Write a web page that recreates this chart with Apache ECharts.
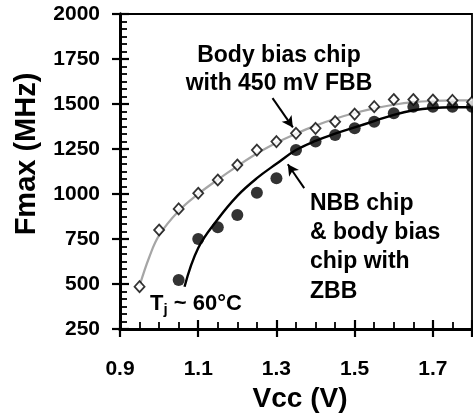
<!DOCTYPE html>
<html>
<head>
<meta charset="utf-8">
<script src="https://cdn.jsdelivr.net/npm/echarts@6/dist/echarts.min.js"></script>
<style>
  html, body { margin: 0; padding: 0; background: #fff; }
  #chart { width: 473px; height: 418px; }
</style>
</head>
<body>
<div id="chart"></div>
<script>
// Supply voltage (V) for the measured points
const vccFBB = [0.95, 1.0, 1.05, 1.1, 1.15, 1.2, 1.25, 1.3, 1.35, 1.4, 1.45, 1.5, 1.55, 1.6, 1.65, 1.7, 1.75, 1.8];
// Fmax (MHz), body bias chip with 450 mV forward body bias
const fmaxFBB = [485, 800, 917, 1004, 1078, 1161, 1244, 1291, 1337, 1365, 1402, 1444, 1485, 1525, 1525, 1522, 1520, 1510];

const vccNBB = [1.05, 1.1, 1.15, 1.2, 1.25, 1.3, 1.35, 1.4, 1.45, 1.5, 1.55, 1.6, 1.65, 1.7, 1.75, 1.8];
// Fmax (MHz), no body bias / zero body bias
const fmaxNBB = [522, 750, 815, 883, 1007, 1087, 1244, 1291, 1328, 1365, 1402, 1448, 1485, 1485, 1485, 1485];

// Fitted trend curves
const vccFitFBB = [0.95, 0.975, 1.0, 1.05, 1.1, 1.15, 1.2, 1.25, 1.3, 1.35, 1.4, 1.45, 1.5, 1.55, 1.6, 1.65, 1.7, 1.75, 1.8];
const fitFBB = [490, 650, 770, 905, 1000, 1080, 1155, 1225, 1285, 1335, 1380, 1418, 1450, 1476, 1496, 1510, 1517, 1520, 1520];
const vccFitNBB = [1.065, 1.1, 1.15, 1.2, 1.25, 1.3, 1.35, 1.4, 1.45, 1.5, 1.55, 1.6, 1.65, 1.7, 1.75, 1.8];
const fitNBB = [485, 700, 860, 990, 1088, 1168, 1244, 1295, 1335, 1370, 1405, 1440, 1465, 1478, 1482, 1482];

// Axis ranges and ticks
const xMin = 0.9, xMax = 1.8, xStep = 0.2;
const yMin = 250, yMax = 2000, yStep = 250;

// Annotation arrows [tail, head] in data units
const arrowFBB = [[1.29, 1533], [1.342, 1370]];
const arrowNBB = [[1.371, 1033], [1.329, 1165]];

const pair = (xs, ys) => xs.map((x, i) => [x, ys[i]]);

const FONT = '"Liberation Sans", Arial, sans-serif';
const chart = echarts.init(document.getElementById('chart'));

const majorIn = { show: true, inside: true, length: 9, lineStyle: { color: '#000', width: 2.2 } };
const majorOut = { show: true, inside: false, length: 8, lineStyle: { color: '#000', width: 2.2 } };
const axisLine = { show: true, onZero: false, lineStyle: { color: '#000', width: 3 } };

const baseX = { type: 'value', min: xMin, max: xMax, interval: xStep, axisLine: axisLine, splitLine: { show: false } };
const baseY = { type: 'value', min: yMin, max: yMax, interval: yStep, axisLine: axisLine, splitLine: { show: false } };

const annot = (x, y, text, align) => ({
  type: 'text', x: x, y: y,
  style: { text: text, font: 'bold 23px ' + FONT, fill: '#000', align: align, verticalAlign: 'middle' }
});

chart.setOption({
  animation: false,
  backgroundColor: '#fff',
  grid: {
    left: 120, right: 1, top: 14, bottom: 89,
    outerBoundsMode: 'none', containLabel: false,
    show: true, borderColor: '#000', borderWidth: 1.8
  },
  xAxis: [
    Object.assign({}, baseX, {
      name: 'Vcc (V)', nameLocation: 'middle', nameGap: 54,
      nameTextStyle: { fontFamily: FONT, fontWeight: 'bold', fontSize: 28, color: '#000', padding: [0, 0, 0, 8] },
      axisTick: majorIn,
      minorTick: { show: true, splitNumber: 4, length: 7, lineStyle: { color: '#000', width: 1.8 } },
      axisLabel: {
        margin: 30, fontFamily: FONT, fontWeight: 'bold', fontSize: 21, color: '#000',
        showMaxLabel: false,
        formatter: v => v.toFixed(1)
      }
    }),
    Object.assign({}, baseX, { position: 'bottom', axisTick: majorOut, axisLabel: { show: false } })
  ],
  yAxis: [
    Object.assign({}, baseY, {
      axisTick: majorIn,
      minorTick: { show: true, splitNumber: 6, length: 7, lineStyle: { color: '#000', width: 1.8 } },
      axisLabel: {
        margin: 20, fontFamily: FONT, fontWeight: 'bold', fontSize: 21, color: '#000',
        formatter: v => String(v)
      }
    }),
    Object.assign({}, baseY, { position: 'left', axisTick: majorOut, axisLabel: { show: false } })
  ],
  graphic: [
    {
      type: 'text', x: 27, y: 154, rotation: Math.PI / 2,
      style: { text: 'Fmax (MHz)', font: 'bold 29px ' + FONT, fill: '#000', align: 'center', verticalAlign: 'middle' }
    },
    annot(279, 56, 'Body bias chip', 'center'),
    annot(279, 84, 'with 450 mV FBB', 'center'),
    annot(310, 204, 'NBB chip', 'left'),
    annot(310, 233, '& body bias', 'left'),
    annot(310, 262, 'chip with', 'left'),
    annot(310, 292, 'ZBB', 'left'),
    {
      type: 'text', x: 150, y: 304,
      style: {
        text: '{t|T}{s|j}{t| ~ 60°C}',
        fill: '#000', verticalAlign: 'middle',
        rich: {
          t: { font: 'bold 22px ' + FONT, fill: '#000' },
          s: { font: 'bold 15px ' + FONT, fill: '#000', padding: [12, 0, 0, 0] }
        }
      }
    }
  ],
  series: [
    {
      type: 'line', name: 'fit FBB', data: pair(vccFitFBB, fitFBB), smooth: 0.4,
      showSymbol: false, symbol: 'none', z: 2,
      lineStyle: { color: '#a6a6a6', width: 2.2 },
      markLine: {
        silent: true, symbol: ['none', 'arrow'], symbolSize: [9, 11],
        lineStyle: { color: '#000', width: 2, type: 'solid' }, label: { show: false },
        data: [[{ coord: arrowFBB[0] }, { coord: arrowFBB[1] }]]
      }
    },
    {
      type: 'line', name: 'fit NBB', data: pair(vccFitNBB, fitNBB), smooth: 0.4,
      showSymbol: false, symbol: 'none', z: 3,
      lineStyle: { color: '#000', width: 2.4 },
      markLine: {
        silent: true, symbol: ['none', 'arrow'], symbolSize: [9, 11],
        lineStyle: { color: '#000', width: 2, type: 'solid' }, label: { show: false },
        data: [[{ coord: arrowNBB[0] }, { coord: arrowNBB[1] }]]
      }
    },
    {
      type: 'scatter', name: 'NBB', data: pair(vccNBB, fmaxNBB), z: 4,
      symbol: 'circle', symbolSize: 12,
      itemStyle: { color: '#000' }
    },
    {
      type: 'scatter', name: 'FBB', data: pair(vccFBB, fmaxFBB), z: 5,
      symbol: 'diamond', symbolSize: [10, 11],
      itemStyle: { color: '#fff', borderColor: '#000', borderWidth: 1.8 }
    }
  ]
});
</script>
</body>
</html>
